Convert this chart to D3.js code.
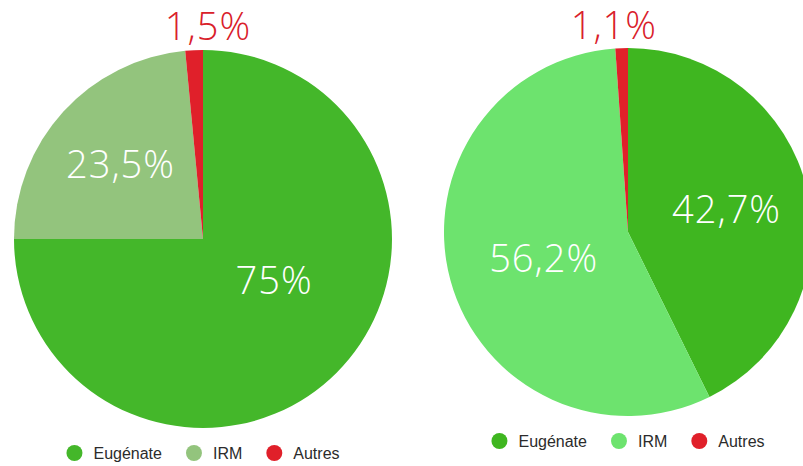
<!DOCTYPE html>
<html>
<head>
<meta charset="utf-8">
<script src="https://cdn.jsdelivr.net/npm/d3@7"></script>
<style>
  html, body { margin: 0; padding: 0; background: #fff; overflow: hidden; }
  svg { display: block; }
</style>
</head>
<body>
<svg id="chart" width="803" height="466"></svg>
<script>
// Répartition par catégorie, deux périodes
const categories = ["Eugénate", "IRM", "Autres"];
const valuesLeft = [75, 23.5, 1.5];
const valuesRight = [42.7, 56.2, 1.1];
const labelsLeft = ["75%", "23,5%", "1,5%"];
const labelsRight = ["42,7%", "56,2%", "1,1%"];
const colorsLeft = ["#44b72a", "#93c47d", "#e0202a"];
const colorsRight = ["#3fb620", "#6de36e", "#e0202a"];

const svg = d3.select("#chart");

// Label placement per slice: radius fraction (or outer offset), angle shift, x nudge
const pies = [
  {
    values: valuesLeft, labels: labelsLeft, colors: colorsLeft,
    cx: 203, cy: 239, r: 189, legendY: 453,
    labelLayout: [
      { k: 0.434, dA: -15, dx: 0 },
      { k: 0.59, dA: 0, dx: 0 },
      { outer: 24, dA: 0, dx: 15 }
    ]
  },
  {
    values: valuesRight, labels: labelsRight, colors: colorsRight,
    cx: 628, cy: 232, r: 184, legendY: 441,
    labelLayout: [
      { k: 0.55, dA: 0, dx: 0 },
      { k: 0.48, dA: -2, dx: 0 },
      { outer: 23, dA: 0, dx: -7 }
    ]
  }
];

const pieGen = d3.pie().sort(null).value(d => d);

pies.forEach(p => {
  const g = svg.append("g").attr("transform", `translate(${p.cx},${p.cy})`);
  const arcs = pieGen(p.values);
  const arc = d3.arc().innerRadius(0).outerRadius(p.r);

  g.selectAll("path.slice")
    .data(arcs)
    .join("path")
    .attr("class", "slice")
    .attr("d", arc)
    .attr("fill", (d, i) => p.colors[i]);

  // Percentage labels
  arcs.forEach((d, i) => {
    const L = p.labelLayout[i];
    const mid = (d.startAngle + d.endAngle) / 2 + L.dA * Math.PI / 180;
    const dist = L.outer ? p.r + L.outer : p.r * L.k;
    const x = Math.sin(mid) * dist + L.dx;
    const y = -Math.cos(mid) * dist;
    g.append("text")
      .attr("x", x)
      .attr("y", y)
      .attr("dy", "0.36em")
      .attr("text-anchor", "middle")
      .attr("font-family", "'Open Sans', sans-serif")
      .attr("font-weight", 300)
      .attr("font-size", 38)
      .attr("letter-spacing", 1)
      .attr("fill", L.outer ? "#d9202a" : "#ffffff")
      .text(p.labels[i]);
  });

  // Legend centred under the pie
  const lg = svg.append("g").attr("class", "legend");
  const items = lg.selectAll("g.item")
    .data(categories)
    .join("g")
    .attr("class", "item");
  items.append("circle")
    .attr("r", 8)
    .attr("fill", (d, i) => p.colors[i]);
  items.append("text")
    .attr("x", 19)
    .attr("dy", "0.35em")
    .attr("font-family", "'Liberation Sans', Arial, sans-serif")
    .attr("font-size", 16)
    .attr("fill", "#2b2b2b")
    .text(d => d);
  const gap = 24;
  let xPos = 0;
  const offsets = [];
  items.each(function () {
    const w = d3.select(this).select("text").node().getComputedTextLength();
    offsets.push(xPos);
    xPos += 8 + 19 + w + gap;
  });
  const total = xPos - gap;
  const start = p.cx - total / 2 + 8;
  items.attr("transform", (d, i) => `translate(${start + offsets[i]},${p.legendY})`);
});
</script>
</body>
</html>
